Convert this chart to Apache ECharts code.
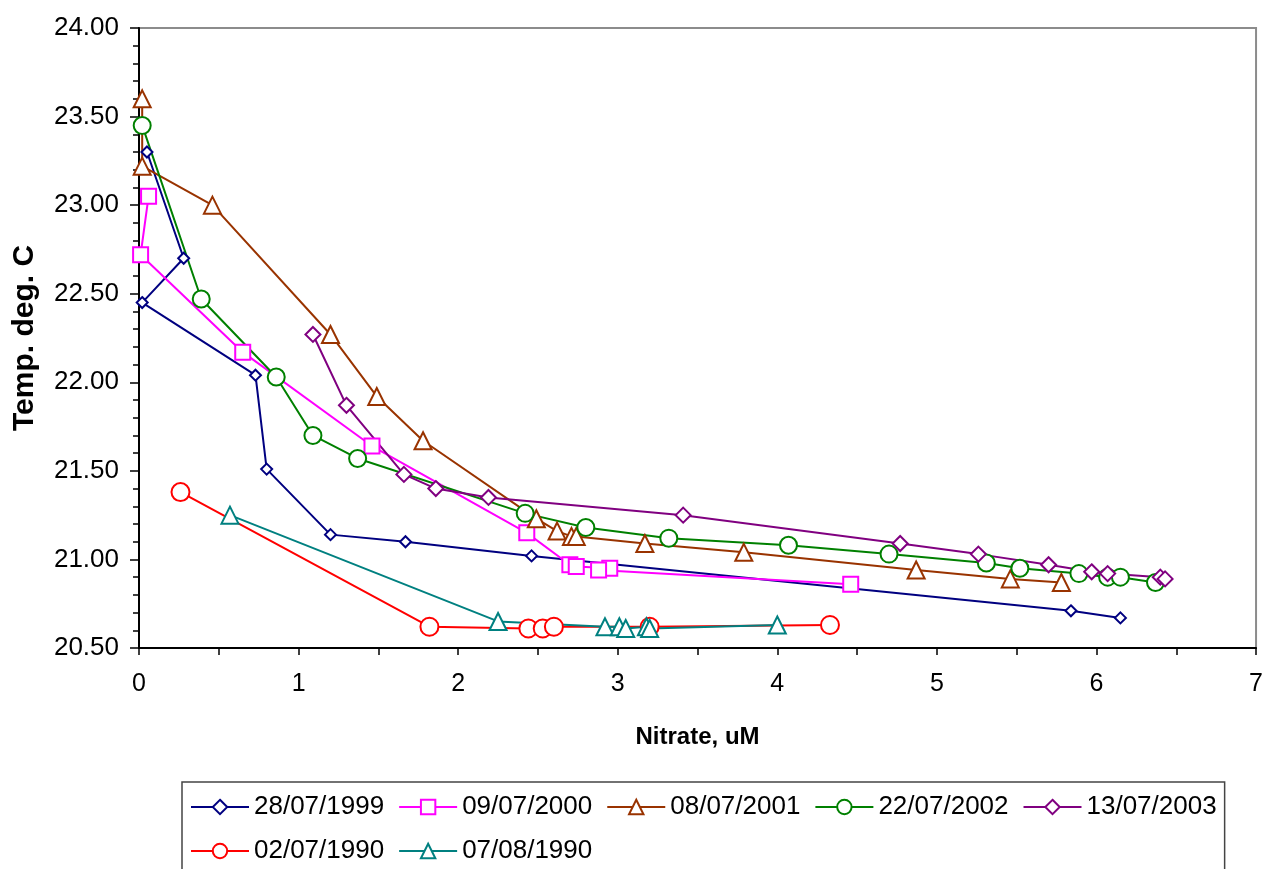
<!DOCTYPE html>
<html>
<head>
<meta charset="utf-8">
<title>Temp vs Nitrate</title>
<script src="https://cdn.jsdelivr.net/npm/echarts@6/dist/echarts.min.js"></script>
<style>
  * { margin: 0; padding: 0; }
  body { background: #fff; }
</style>
</head>
<body>
<div id="main" style="width:1266px;height:869px;"></div>
<script>
// series names (legend order)
var seriesNames = ['28/07/1999', '09/07/2000', '08/07/2001', '22/07/2002', '13/07/2003', '02/07/1990', '07/08/1990'];

// nitrate (uM) and temperature (deg C) per survey
var nitrate1999 = [0.05, 0.28, 0.02, 0.73, 0.80, 1.20, 1.67, 2.46, 5.84, 6.15];
var temp1999    = [23.30, 22.70, 22.45, 22.04, 21.51, 21.14, 21.10, 21.02, 20.71, 20.67];

var nitrate2000 = [0.06, 0.01, 0.65, 1.46, 2.43, 2.70, 2.74, 2.95, 2.88, 4.46];
var temp2000    = [23.05, 22.72, 22.17, 21.64, 21.15, 20.97, 20.96, 20.95, 20.94, 20.86];

var nitrate2001 = [0.02, 0.02, 0.46, 1.20, 1.49, 1.78, 2.49, 2.62, 2.71, 2.74, 3.17, 3.79, 4.87, 5.46, 5.78];
var temp2001    = [23.60, 23.22, 23.00, 22.27, 21.92, 21.67, 21.23, 21.16, 21.13, 21.13, 21.09, 21.04, 20.94, 20.89, 20.87];

var nitrate2002 = [0.02, 0.39, 0.86, 1.09, 1.37, 2.42, 2.80, 3.32, 4.07, 4.70, 5.31, 5.52, 5.89, 6.07, 6.15, 6.37];
var temp2002    = [23.45, 22.47, 22.03, 21.70, 21.57, 21.26, 21.18, 21.12, 21.08, 21.03, 20.98, 20.95, 20.92, 20.90, 20.90, 20.87];

var nitrate2003 = [1.09, 1.30, 1.66, 1.86, 2.19, 3.41, 4.77, 5.26, 5.70, 5.97, 6.07, 6.40, 6.43];
var temp2003    = [22.27, 21.87, 21.48, 21.40, 21.35, 21.25, 21.09, 21.03, 20.97, 20.93, 20.92, 20.90, 20.89];

var nitrate1990a = [0.26, 1.82, 2.44, 2.53, 2.60, 3.20, 4.33];
var temp1990a    = [21.38, 20.62, 20.61, 20.61, 20.62, 20.62, 20.63];

var nitrate1990b = [0.57, 2.25, 2.92, 3.01, 3.05, 3.18, 3.20, 4.00];
var temp1990b    = [21.25, 20.65, 20.62, 20.62, 20.61, 20.62, 20.61, 20.63];

// tick labels
var yMin = 20.5, yMax = 24, yStep = 0.5;
var xMin = 0, xMax = 7, xStep = 1;

var fontFam = "'Liberation Sans', Arial, sans-serif";

function pairs(xs, ys) {
  var out = [];
  for (var i = 0; i < xs.length; i++) out.push([xs[i], ys[i]]);
  return out;
}

// build one hollow-marker line series
function makeSeries(name, xs, ys, color, symbol, size) {
  return {
    name: name,
    type: 'line',
    data: pairs(xs, ys),
    symbol: symbol,
    symbolSize: size,
    showAllSymbol: true,
    lineStyle: { color: color, width: 2 },
    itemStyle: { color: '#fff', borderColor: color, borderWidth: 2 },
    emphasis: { disabled: true },
    z: 2
  };
}

var myChart = echarts.init(document.getElementById('main'));

myChart.setOption({
  animation: false,
  textStyle: { fontFamily: fontFam },
  grid: {
    left: 139,
    right: 9,
    top: 28,
    bottom: 221,
    show: true,
    borderColor: '#8c8c8c',
    borderWidth: 2,
    backgroundColor: '#fff'
  },
  legend: {
    left: 182,
    top: 782,
    width: 1060,
    orient: 'horizontal',
    padding: [10, 8, 40, 8],
    itemGap: 14,
    itemWidth: 58,
    itemHeight: 18,
    borderColor: '#444',
    borderWidth: 1.5,
    textStyle: { fontSize: 26, lineHeight: 30, color: '#000', fontFamily: fontFam },
    data: seriesNames
  },
  xAxis: {
    type: 'value',
    min: xMin,
    max: xMax,
    interval: xStep,
    name: 'Nitrate, uM',
    nameLocation: 'middle',
    nameGap: 77,
    nameTextStyle: { fontSize: 24, fontWeight: 'bold', color: '#000' },
    axisLine: { lineStyle: { color: '#000', width: 2 } },
    axisTick: { show: true, length: 7, lineStyle: { color: '#000', width: 1.5 } },
    minorTick: { show: true, splitNumber: 2, length: 7, lineStyle: { color: '#000', width: 1.5 } },
    axisLabel: { fontSize: 25, color: '#000', margin: 24 },
    splitLine: { show: false }
  },
  yAxis: {
    type: 'value',
    min: yMin,
    max: yMax,
    interval: yStep,
    name: 'Temp. deg. C',
    nameLocation: 'middle',
    nameGap: 99,
    nameTextStyle: { fontSize: 30, fontWeight: 'bold', color: '#000' },
    axisLine: { show: true, lineStyle: { color: '#000', width: 2 } },
    axisTick: { show: true, length: 9, lineStyle: { color: '#000', width: 1.5 } },
    minorTick: { show: true, splitNumber: 5, length: 6, lineStyle: { color: '#000', width: 1.5 } },
    axisLabel: {
      fontSize: 26,
      color: '#000',
      margin: 20,
      formatter: function (v) { return v.toFixed(2); }
    },
    splitLine: { show: false }
  },
  series: [
    makeSeries(seriesNames[0], nitrate1999, temp1999, '#000080', 'diamond', 11),
    makeSeries(seriesNames[1], nitrate2000, temp2000, '#ff00ff', 'rect', 15),
    makeSeries(seriesNames[2], nitrate2001, temp2001, '#993300', 'triangle', 17),
    makeSeries(seriesNames[3], nitrate2002, temp2002, '#008000', 'circle', 17),
    makeSeries(seriesNames[4], nitrate2003, temp2003, '#800080', 'diamond', 15),
    makeSeries(seriesNames[5], nitrate1990a, temp1990a, '#ff0000', 'circle', 18),
    makeSeries(seriesNames[6], nitrate1990b, temp1990b, '#008080', 'triangle', 17)
  ]
});
</script>
</body>
</html>
